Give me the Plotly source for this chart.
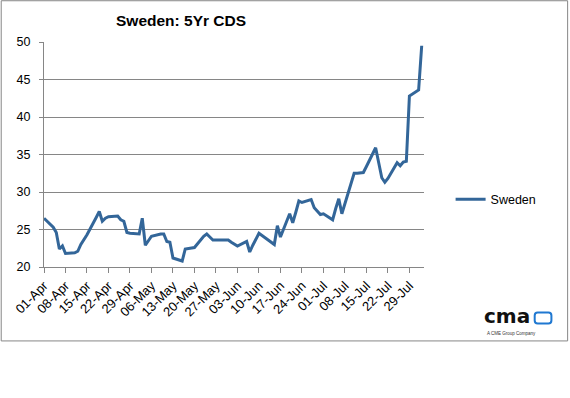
import plotly.graph_objects as go

dates = [
    "2011-04-01","2011-04-04","2011-04-05","2011-04-06","2011-04-07","2011-04-08",
    "2011-04-11","2011-04-12","2011-04-13","2011-04-14","2011-04-15",
    "2011-04-18","2011-04-19","2011-04-20","2011-04-21","2011-04-22",
    "2011-04-25","2011-04-26","2011-04-27","2011-04-28","2011-04-29",
    "2011-05-02","2011-05-03","2011-05-04","2011-05-05","2011-05-06",
    "2011-05-09","2011-05-10","2011-05-11","2011-05-12","2011-05-13",
    "2011-05-16","2011-05-17","2011-05-18","2011-05-19","2011-05-20",
    "2011-05-23","2011-05-24","2011-05-25","2011-05-26","2011-05-27",
    "2011-05-30","2011-05-31","2011-06-01","2011-06-02","2011-06-03",
    "2011-06-06","2011-06-07","2011-06-08","2011-06-09","2011-06-10",
    "2011-06-13","2011-06-14","2011-06-15","2011-06-16","2011-06-17",
    "2011-06-20","2011-06-21","2011-06-22","2011-06-23","2011-06-24",
    "2011-06-27","2011-06-28","2011-06-29","2011-06-30","2011-07-01",
    "2011-07-04","2011-07-05","2011-07-06","2011-07-07","2011-07-08",
    "2011-07-11","2011-07-12","2011-07-13","2011-07-14","2011-07-15",
    "2011-07-18","2011-07-19","2011-07-20","2011-07-21","2011-07-22",
    "2011-07-25","2011-07-26","2011-07-27","2011-07-28","2011-07-29",
    "2011-08-01","2011-08-02",
]

sweden = [
    26.5, 25.3, 24.6, 22.4, 22.8, 21.8,
    21.9, 22.1, 23.0, 23.6, 24.3,
    26.6, 27.4, 26.1, 26.5, 26.7,
    26.8, 26.3, 26.1, 24.6, 24.5,
    24.4, 26.5, 22.9, 23.5, 24.1,
    24.4, 24.4, 23.4, 23.3, 21.2,
    20.8, 22.4, 22.5, 22.6, 22.6,
    24.1, 24.4, 24.0, 23.6, 23.6,
    23.6, 23.6, 23.3, 23.1, 22.8,
    23.4, 22.0, 22.9, 23.8, 24.5,
    23.6, 23.3, 23.0, 25.5, 24.0,
    27.1, 25.9, 27.3, 28.8, 28.6,
    29.0, 27.9, 27.4, 27.0, 27.1,
    26.3, 27.8, 29.1, 27.1, 28.5,
    32.5, 32.5, 32.5, 32.6, 33.4,
    35.9, 33.9, 31.9, 31.3, 31.8,
    33.9, 33.5, 34.0, 34.1, 42.8,
    43.6, 49.5,
]

tick_dates = [
    "2011-04-01","2011-04-08","2011-04-15","2011-04-22","2011-04-29",
    "2011-05-06","2011-05-13","2011-05-20","2011-05-27","2011-06-03",
    "2011-06-10","2011-06-17","2011-06-24","2011-07-01","2011-07-08",
    "2011-07-15","2011-07-22","2011-07-29",
]
tick_labels = [
    "01-Apr","08-Apr","15-Apr","22-Apr","29-Apr","06-May","13-May","20-May",
    "27-May","03-Jun","10-Jun","17-Jun","24-Jun","01-Jul","08-Jul","15-Jul",
    "22-Jul","29-Jul",
]

title_text = "Sweden: 5Yr CDS"
series_name = "Sweden"

grey = "#868686"
line_blue = "#336699"
font_family = "Liberation Sans, Arial, sans-serif"

fig = go.Figure()
fig.add_trace(go.Scatter(
    x=dates, y=sweden, mode="lines", name=series_name,
    line=dict(color=line_blue, width=3),
))

# plot area: x 44..424, y 42..267
fig.update_layout(
    width=570, height=398,
    margin=dict(l=44, r=146, t=42, b=131, pad=0, autoexpand=False),
    paper_bgcolor="white", plot_bgcolor="white",
    font=dict(family=font_family, size=12, color="#000000"),
    showlegend=True,
    legend=dict(
        x=1.07, y=0.30, xanchor="left", yanchor="middle",
        font=dict(family=font_family, size=12.5, color="#000000"),
        bgcolor="rgba(0,0,0,0)", borderwidth=0, itemwidth=30,
    ),
    xaxis=dict(
        type="date", automargin=False,
        range=["2011-04-01", "2011-08-02 18:00"],
        tickvals=tick_dates, ticktext=tick_labels,
        tickangle=-45,
        showgrid=False, zeroline=False,
        showline=True, linecolor=grey, linewidth=1,
        ticks="outside", ticklen=5, tickcolor=grey, tickwidth=1,
        tickfont=dict(family=font_family, size=13, color="#000000"),
    ),
    yaxis=dict(
        range=[20, 50], dtick=5, tick0=20, automargin=False,
        showgrid=True, gridcolor=grey, gridwidth=1,
        zeroline=False,
        showline=True, linecolor=grey, linewidth=1,
        ticks="outside", ticklen=4, tickcolor=grey, tickwidth=1,
        ticklabelstandoff=6,
        tickfont=dict(family=font_family, size=12.5, color="#000000"),
    ),
)

# chart-area border
fig.add_shape(type="rect", xref="paper", yref="paper",
              x0=-0.1126, x1=1.378, y0=-0.3286, y1=1.1834,
              line=dict(color=grey, width=1), fillcolor="rgba(0,0,0,0)", layer="below")

# title
fig.add_annotation(text="<b>" + title_text + "</b>", xref="paper", yref="paper",
                   x=0.36, y=1.096, xanchor="center", yanchor="middle",
                   showarrow=False,
                   font=dict(family=font_family, size=15.5, color="#000000"))

# logo
fig.add_annotation(text="<b>cma</b>", xref="paper", yref="paper",
                   x=1.152, y=-0.2800, xanchor="left", yanchor="bottom",
                   showarrow=False,
                   font=dict(family="DejaVu Sans, sans-serif", size=20,
                             color="#111111"))
fig.add_annotation(text="A CME Group Company", xref="paper", yref="paper",
                   x=1.16, y=-0.2962, xanchor="left", yanchor="middle",
                   showarrow=False,
                   font=dict(family=font_family, size=4.5, color="#333333"))

px_x = 1 / 380.0
px_y = 1 / 225.0
x0, x1 = 1.2913, 1.3353
y0, y1 = -0.2509, -0.2020
rx, ry = 3 * px_x, 3 * px_y
path = (f"M {x0+rx},{y1} L {x1-rx},{y1} Q {x1},{y1} {x1},{y1-ry} "
        f"L {x1},{y0+ry} Q {x1},{y0} {x1-rx},{y0} L {x0+rx},{y0} "
        f"Q {x0},{y0} {x0},{y0+ry} L {x0},{y1-ry} Q {x0},{y1} {x0+rx},{y1} Z")
fig.add_shape(type="path", xref="paper", yref="paper", path=path,
              line=dict(color="#1f78d1", width=2), fillcolor="rgba(0,0,0,0)")

fig.write_html("out.html",
               config={"displayModeBar": False},
               post_script="document.body.style.margin='0';document.body.style.padding='0';")
